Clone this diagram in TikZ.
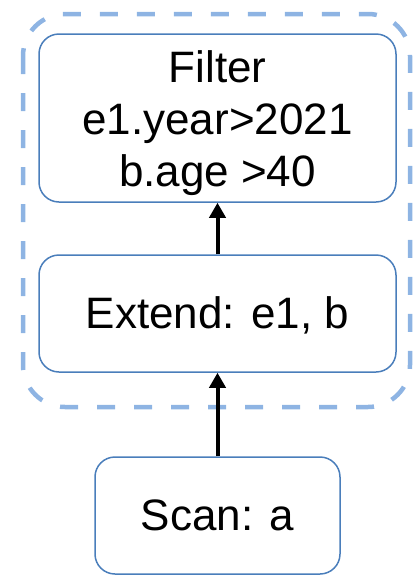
\documentclass[tikz,border=0pt]{standalone}
\usepackage{fontspec}
\setmainfont{Liberation Sans}
\usetikzlibrary{arrows.meta}
\definecolor{boxline}{HTML}{4A7EBB}
\definecolor{groupline}{HTML}{8EB4E3}
\tikzset{
  opbox/.style={draw=boxline, line width=1.5pt, rounded corners=20pt,
    fill=white, align=center, inner sep=0pt,
    font=\fontsize{44}{52}\selectfont},
  flow/.style={line width=4pt, -{Triangle[length=15pt,width=16pt]}},
  groupbox/.style={draw=groupline, line width=4.5pt, rounded corners=42pt,
    dash pattern=on 18pt off 19pt}
}
\begin{document}
\begin{tikzpicture}[x=1pt,y=-1pt]
  \useasboundingbox (0,0) rectangle (415,584);
  % dashed group around the operators that run together
  \draw[groupbox] (23,14) rectangle (410,407);
  % operator boxes
  \node[opbox, minimum width=357pt, minimum height=168pt] (filter) at (217.5,118)
    {\rule{0pt}{42pt}Filter\\e1.year>2021\\b.age >40};
  \node[opbox, minimum width=357pt, minimum height=117pt] (extend) at (217.5,313.5)
    {\rule{0pt}{36pt}Extend: e1, b};
  \node[opbox, minimum width=245pt, minimum height=117pt] (scan) at (217.5,515.5)
    {Scan: a};
  % data flow
  \draw[flow] (scan.north) -- (extend.south);
  \draw[flow] (extend.north) -- (filter.south);
\end{tikzpicture}
\end{document}
